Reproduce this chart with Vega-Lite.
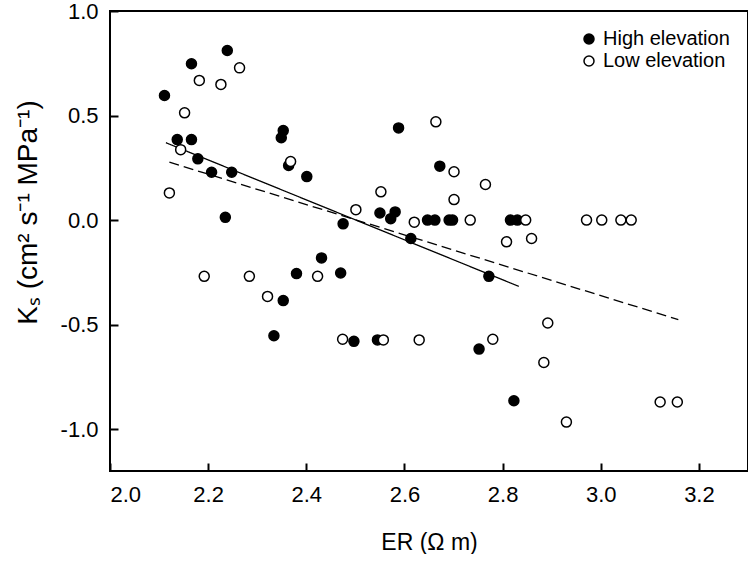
{
  "$schema": "https://vega.github.io/schema/vega-lite/v6.json",
  "width": 638,
  "height": 460,
  "padding": {"left": 14, "top": 0, "right": 0, "bottom": 0},
  "config": {
    "view": {"stroke": "black", "strokeWidth": 2},
    "font": "Liberation Sans",
    "axis": {
      "domain": false,
      "grid": false,
      "tickColor": "black",
      "tickWidth": 2,
      "tickSize": 8,
      "offset": -8,
      "labelColor": "black",
      "labelFontSize": 22,
      "titleFontWeight": "normal",
      "titleColor": "black"
    },
    "legend": {
      "labelFontSize": 20,
      "labelColor": "black"
    }
  },
  "datasets": {
    "pts": [
      {"er": 2.111, "ks": 0.596, "group": "High elevation"},
      {"er": 2.166, "ks": 0.748, "group": "High elevation"},
      {"er": 2.239, "ks": 0.811, "group": "High elevation"},
      {"er": 2.137, "ks": 0.385, "group": "High elevation"},
      {"er": 2.166, "ks": 0.385, "group": "High elevation"},
      {"er": 2.179, "ks": 0.293, "group": "High elevation"},
      {"er": 2.207, "ks": 0.229, "group": "High elevation"},
      {"er": 2.248, "ks": 0.229, "group": "High elevation"},
      {"er": 2.353, "ks": 0.428, "group": "High elevation"},
      {"er": 2.349, "ks": 0.394, "group": "High elevation"},
      {"er": 2.364, "ks": 0.261, "group": "High elevation"},
      {"er": 2.235, "ks": 0.013, "group": "High elevation"},
      {"er": 2.401, "ks": 0.208, "group": "High elevation"},
      {"er": 2.475, "ks": -0.018, "group": "High elevation"},
      {"er": 2.431, "ks": -0.181, "group": "High elevation"},
      {"er": 2.380, "ks": -0.256, "group": "High elevation"},
      {"er": 2.470, "ks": -0.253, "group": "High elevation"},
      {"er": 2.353, "ks": -0.385, "group": "High elevation"},
      {"er": 2.334, "ks": -0.553, "group": "High elevation"},
      {"er": 2.497, "ks": -0.580, "group": "High elevation"},
      {"er": 2.545, "ks": -0.573, "group": "High elevation"},
      {"er": 2.588, "ks": 0.441, "group": "High elevation"},
      {"er": 2.672, "ks": 0.258, "group": "High elevation"},
      {"er": 2.550, "ks": 0.034, "group": "High elevation"},
      {"er": 2.581, "ks": 0.039, "group": "High elevation"},
      {"er": 2.572, "ks": 0.007, "group": "High elevation"},
      {"er": 2.647, "ks": 0.0, "group": "High elevation"},
      {"er": 2.662, "ks": 0.0, "group": "High elevation"},
      {"er": 2.691, "ks": 0.0, "group": "High elevation"},
      {"er": 2.698, "ks": 0.0, "group": "High elevation"},
      {"er": 2.613, "ks": -0.088, "group": "High elevation"},
      {"er": 2.772, "ks": -0.269, "group": "High elevation"},
      {"er": 2.752, "ks": -0.617, "group": "High elevation"},
      {"er": 2.816, "ks": 0.0, "group": "High elevation"},
      {"er": 2.830, "ks": 0.0, "group": "High elevation"},
      {"er": 2.823, "ks": -0.864, "group": "High elevation"},
      {"er": 2.182, "ks": 0.668, "group": "Low elevation"},
      {"er": 2.226, "ks": 0.649, "group": "Low elevation"},
      {"er": 2.264, "ks": 0.728, "group": "Low elevation"},
      {"er": 2.152, "ks": 0.513, "group": "Low elevation"},
      {"er": 2.144, "ks": 0.337, "group": "Low elevation"},
      {"er": 2.121, "ks": 0.130, "group": "Low elevation"},
      {"er": 2.368, "ks": 0.280, "group": "Low elevation"},
      {"er": 2.192, "ks": -0.269, "group": "Low elevation"},
      {"er": 2.284, "ks": -0.269, "group": "Low elevation"},
      {"er": 2.423, "ks": -0.269, "group": "Low elevation"},
      {"er": 2.321, "ks": -0.365, "group": "Low elevation"},
      {"er": 2.474, "ks": -0.570, "group": "Low elevation"},
      {"er": 2.557, "ks": -0.573, "group": "Low elevation"},
      {"er": 2.630, "ks": -0.573, "group": "Low elevation"},
      {"er": 2.780, "ks": -0.570, "group": "Low elevation"},
      {"er": 2.664, "ks": 0.470, "group": "Low elevation"},
      {"er": 2.701, "ks": 0.231, "group": "Low elevation"},
      {"er": 2.765, "ks": 0.170, "group": "Low elevation"},
      {"er": 2.552, "ks": 0.135, "group": "Low elevation"},
      {"er": 2.701, "ks": 0.098, "group": "Low elevation"},
      {"er": 2.501, "ks": 0.050, "group": "Low elevation"},
      {"er": 2.620, "ks": -0.010, "group": "Low elevation"},
      {"er": 2.734, "ks": 0.0, "group": "Low elevation"},
      {"er": 2.847, "ks": 0.0, "group": "Low elevation"},
      {"er": 2.971, "ks": 0.0, "group": "Low elevation"},
      {"er": 3.002, "ks": 0.0, "group": "Low elevation"},
      {"er": 3.041, "ks": 0.0, "group": "Low elevation"},
      {"er": 3.062, "ks": 0.0, "group": "Low elevation"},
      {"er": 2.808, "ks": -0.104, "group": "Low elevation"},
      {"er": 2.859, "ks": -0.088, "group": "Low elevation"},
      {"er": 2.892, "ks": -0.492, "group": "Low elevation"},
      {"er": 2.884, "ks": -0.681, "group": "Low elevation"},
      {"er": 2.930, "ks": -0.966, "group": "Low elevation"},
      {"er": 3.121, "ks": -0.870, "group": "Low elevation"},
      {"er": 3.156, "ks": -0.870, "group": "Low elevation"}
    ],
    "fits": [
      {"er": 2.114, "ks": 0.370, "fit": "High elevation"},
      {"er": 2.833, "ks": -0.317, "fit": "High elevation"},
      {"er": 2.121, "ks": 0.277, "fit": "Low elevation"},
      {"er": 3.158, "ks": -0.476, "fit": "Low elevation"}
    ]
  },
  "layer": [
    {
      "data": {"name": "fits"},
      "mark": {"type": "line", "color": "black", "strokeWidth": 1.3},
      "encoding": {
        "x": {"field": "er", "type": "quantitative", "scale": {"domain": [2.0, 3.3], "nice": false, "zero": false},
          "axis": {"tickCount": 7, "labelExpr": "replace(format(datum.value, '.1f'), '\u2212', '-')", "title": "ER (Ω m)", "titleFontSize": 23, "labelPadding": 13, "titlePadding": 26}},
        "y": {"field": "ks", "type": "quantitative", "scale": {"domain": [-1.2, 1.0], "nice": false, "zero": false},
          "axis": {"tickCount": 5, "labelExpr": "replace(format(datum.value, '.1f'), '\u2212', '-')", "title": "Kₛ (cm² s⁻¹ MPa⁻¹)", "titleFontSize": 28, "titleY": 201, "labelPadding": 12, "titlePadding": 18}},
        "strokeDash": {"field": "fit", "type": "nominal", "scale": {"domain": ["High elevation", "Low elevation"], "range": [[1, 0], [10, 5]]}, "legend": null}
      }
    },
    {
      "data": {"name": "pts"},
      "mark": {"type": "point", "filled": true, "stroke": "black", "strokeWidth": 1.5, "size": 100, "opacity": 1},
      "encoding": {
        "x": {"field": "er", "type": "quantitative"},
        "y": {"field": "ks", "type": "quantitative"},
        "fill": {"field": "group", "type": "nominal",
          "scale": {"range": ["black", "white"]},
          "legend": {"title": null, "orient": "top-right"}}
      }
    }
  ]
}
